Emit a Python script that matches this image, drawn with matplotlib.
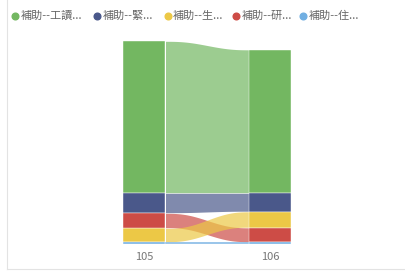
import numpy as np
import matplotlib.pyplot as plt
from matplotlib.lines import Line2D

plt.rcParams['font.family'] = ['Noto Sans CJK TC', 'DejaVu Sans']

years = ['105', '106']
series = ['補助--工讀...', '補助--緊...', '補助--生...', '補助--研...', '補助--住...']
colors = ['#73B761', '#4A588A', '#ECC846', '#CD4C46', '#71AFE2']
# values per series: [105, 106]
work = [152, 143.5]
emergency = [20, 18.5]
living = [14, 16]
research = [15, 14.5]
housing = [2, 2]
values = np.array([work, emergency, living, research, housing])

W, H = 406, 271
fig = plt.figure(figsize=(W / 100, H / 100), dpi=100)
# bar area: x 123.5..291.5 px, y 40..244 px (from top)
ax = fig.add_axes([123.5 / W, (H - 244) / H, 168 / W, 204 / H])
ax.set_xlim(-1 / 6, 1 + 1 / 6)
ax.set_ylim(0, 204)
bw = 1 / 3

# stack order per column: largest on top, smallest at bottom
bottoms = np.zeros_like(values)
for j in range(2):
    order = np.argsort(values[:, j])  # ascending -> bottom first
    base = 0
    for i in order:
        bottoms[i, j] = base
        base += values[i, j]

for i in range(len(series)):
    ax.bar([0, 1], values[i], bottom=bottoms[i], width=bw, color=colors[i],
           edgecolor='white', linewidth=0.3, zorder=3)

# ribbons
xs = np.linspace(bw / 2, 1 - bw / 2, 200)
t = (xs - xs[0]) / (xs[-1] - xs[0])
s = t ** 3 * (t * (6 * t - 15) + 10)
for i in [0, 1, 3, 2, 4]:
    lo = bottoms[i, 0] + (bottoms[i, 1] - bottoms[i, 0]) * s
    top0 = bottoms[i, 0] + values[i, 0]
    top1 = bottoms[i, 1] + values[i, 1]
    hi = top0 + (top1 - top0) * s
    ax.fill_between(xs, lo + 0.3, hi - 0.3, color=colors[i], alpha=0.7,
                    linewidth=0, zorder=2)

ax.set_xticks([0, 1], years)
ax.tick_params(axis='x', length=0, pad=5.5, labelsize=8, labelcolor='#777777')
ax.set_yticks([])
for sp in ax.spines.values():
    sp.set_visible(False)

# legend, placed by hand
leg_x = [15, 97.5, 167.5, 236.5, 303.5]
leg_y = 15.5
for x, c, name in zip(leg_x, colors, series):
    fig.add_artist(Line2D([x / W], [1 - leg_y / H], marker='o', markersize=4.8,
                          markerfacecolor=c, markeredgecolor=c, linestyle='none'))
    fig.text((x + 5.5) / W, 1 - leg_y / H, name, fontsize=8, color='#666666',
             va='center', ha='left')

# frame lines
fig.add_artist(Line2D([6.5 / W, 6.5 / W], [1, (H - 269) / H], color='#E3E3E3', lw=0.8))
fig.add_artist(Line2D([6.5 / W, 1], [(H - 269) / H, (H - 269) / H], color='#E3E3E3', lw=0.8))

fig.savefig('out.png', dpi=100)
